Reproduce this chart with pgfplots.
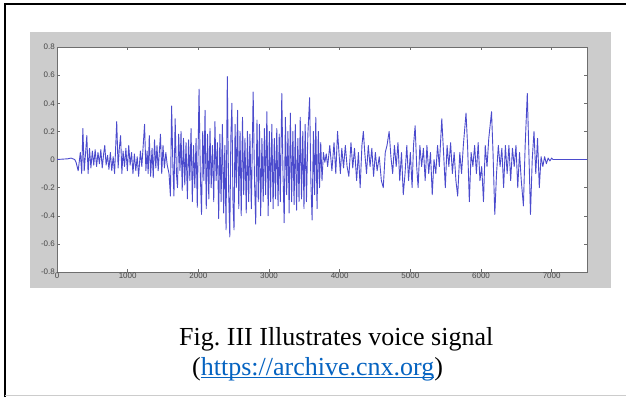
\documentclass[border=0pt]{standalone}
\usepackage{pgfplots}
\pgfplotsset{compat=1.18}
\usepackage{fontspec}
\setmainfont{Liberation Serif}
\newfontfamily\tickfont{Liberation Sans}
\definecolor{figgray}{RGB}{204,204,204}
\definecolor{sig}{RGB}{75,75,205}
\definecolor{axgray}{RGB}{110,110,110}
\definecolor{lbl}{RGB}{70,70,70}
\definecolor{link}{RGB}{5,99,193}
\newcommand\ul[1]{\setbox0\hbox{#1}\rlap{\rule[-2.6pt]{\wd0}{1.1pt}}\box0}
\frenchspacing
\begin{document}
\begin{tikzpicture}[x=1pt,y=1pt]
\useasboundingbox (0,0) rectangle (626,-397);
\fill[white] (0,0) rectangle (626,-397);
\draw[black,line width=1.3pt] (5,-397) -- (5,-4) -- (626,-4);
\draw[gray!40,line width=1pt] (5,-395.5) -- (626,-395.5);
\fill[figgray] (30,-32) rectangle (611,-288);
\begin{axis}[at={(57pt,-47pt)}, anchor=north west,
  width=530pt, height=225pt, scale only axis,
  xmin=0, xmax=7500, ymin=-0.8, ymax=0.8,
  axis background/.style={fill=white},
  axis line style={axgray,line width=0.6pt},
  xtick={0,1000,2000,3000,4000,5000,6000,7000},
  xticklabels={0,1000,2000,3000,4000,5000,6000,7000},
  ytick={-0.8,-0.6,-0.4,-0.2,0,0.2,0.4,0.6,0.8},
  yticklabels={-0.8,-0.6,-0.4,-0.2,0,0.2,0.4,0.6,0.8},
  tick align=inside, tick pos=both, major tick length=3pt,
  tick style={axgray,line width=0.5pt},
  ticklabel style={font=\tickfont\fontsize{8}{9}\selectfont, text=lbl},
  xticklabel style={inner sep=1pt},
  yticklabel style={inner sep=2pt},
]
\addplot[sig, line width=0.9pt, line join=round] coordinates {
(0,0) (150,0.005) (200,0.01) (250,0)
(270,-0.02) (300,-0.08) (330,0.05) (350,-0.1) (366,0.22) (385,-0.08) (405,0.05) (422,0.17) (440,-0.1) (460,0.08)
(480,-0.06) (500,0.06) (520,-0.04) (540,0.07) (560,-0.05) (580,0.05) (600,-0.03) (620,0.07) (640,-0.06) (660,0.04)
(676,0.1) (695,-0.04) (715,0.03) (735,-0.07) (755,0.05) (775,-0.08) (795,0.02) (815,-0.1) (845,0.27) (865,-0.06)
(882,0.08) (900,0.17) (918,-0.1) (935,0.06) (955,-0.05) (975,0.08) (995,-0.08) (1015,0.1) (1035,-0.04) (1055,0.05)
(1075,-0.1) (1095,0.04) (1115,-0.08) (1135,0.02) (1155,-0.12) (1180,0.06) (1200,-0.05) (1220,0.1) (1239,0.25) (1258,-0.08)
(1275,0.06) (1290,-0.1) (1306,0.17) (1325,-0.12) (1345,0.08) (1362,-0.13) (1380,0.14) (1398,-0.06) (1415,0.1) (1432,-0.08)
(1448,0.05) (1464,0.18) (1482,-0.1) (1500,0.1) (1520,-0.06) (1540,0.05) (1560,-0.04)
(1585,-0.1) (1605,-0.26) (1622,0.38) (1640,-0.05) (1655,-0.26) (1672,0.29) (1690,-0.1) (1705,-0.2) (1722,0.18) (1740,-0.08)
(1755,0.2) (1772,-0.22) (1790,0.15) (1808,-0.18) (1826,0.12) (1845,-0.28) (1862,0.14) (1880,-0.15) (1897,0.22) (1915,-0.3)
(1932,0.1) (1950,-0.2) (1968,0.15) (1985,-0.34) (2010,0.5) (2028,-0.1) (2045,-0.39) (2062,0.2) (2078,-0.15) (2095,0.35)
(2112,-0.35) (2130,0.18) (2148,-0.28) (2165,0.22) (2182,-0.2) (2200,0.1) (2218,-0.3) (2235,0.27) (2252,-0.15) (2270,0.12)
(2288,-0.42) (2305,0.18) (2322,-0.3) (2340,0.25) (2358,-0.38) (2375,0.1) (2392,-0.5) (2410,0.59) (2428,-0.2) (2445,-0.55)
(2460,0.15) (2475,0.4) (2490,-0.3) (2505,-0.5) (2520,0.25) (2537,-0.2) (2555,0.35) (2572,-0.35) (2590,0.2) (2607,-0.4)
(2625,0.3) (2642,-0.25) (2660,0.15) (2678,-0.38) (2695,0.2) (2712,-0.3) (2730,0.18) (2750,-0.35) (2776,0.48) (2795,-0.15)
(2812,-0.46) (2830,0.28) (2848,-0.3) (2865,0.25) (2882,-0.4) (2900,0.15) (2918,-0.3) (2935,0.22) (2952,-0.25) (2970,0.34)
(2988,-0.4) (3005,0.2) (3022,-0.3) (3040,0.25) (3058,-0.35) (3075,0.15) (3092,-0.28) (3110,0.22) (3128,-0.33) (3145,0.18)
(3160,-0.3) (3181,0.47) (3198,-0.1) (3215,-0.45) (3232,0.3) (3250,-0.25) (3268,0.2) (3285,-0.38) (3302,0.33) (3320,-0.3)
(3338,0.2) (3355,-0.32) (3372,0.25) (3390,-0.36) (3408,0.15) (3425,-0.3) (3442,0.3) (3460,-0.28) (3478,0.2) (3495,-0.35)
(3512,0.25) (3530,-0.3) (3550,0.18) (3575,0.44) (3592,-0.15) (3610,-0.43) (3628,0.2) (3645,-0.25) (3662,0.3) (3680,-0.35)
(3698,0.2) (3715,-0.2) (3732,0.12) (3750,-0.15)
(3770,0.05) (3790,-0.02) (3810,0.04) (3830,-0.05) (3860,0.1) (3890,-0.08) (3920,0.12) (3945,-0.1) (3970,0.2) (3990,0.05)
(4010,-0.1) (4030,0.08) (4055,-0.06) (4080,0.1) (4105,-0.05) (4130,-0.12) (4160,0.12) (4185,-0.06) (4210,0.08) (4240,-0.15)
(4265,0.05) (4290,-0.2) (4315,0.1) (4335,0.2) (4355,0.05) (4380,-0.1) (4405,0.1) (4430,-0.05) (4455,0.08) (4480,-0.12)
(4505,0.05) (4530,-0.08) (4560,0.02) (4590,-0.15) (4617,-0.2) (4645,0.05) (4670,0.1) (4700,0.2) (4725,0.02) (4750,-0.1)
(4775,0.1) (4800,-0.05) (4825,0.12) (4850,-0.15) (4875,0.05) (4900,-0.25) (4925,-0.1) (4950,0.1) (4975,-0.15) (5000,0.05)
(5025,-0.2) (5045,0.1) (5068,0.24) (5090,-0.05) (5110,-0.2) (5135,0.1) (5160,-0.05) (5185,0.08) (5210,-0.15) (5235,0.1)
(5260,-0.1) (5285,0.05) (5310,-0.25) (5335,0) (5360,-0.1) (5385,0.1) (5410,-0.05) (5445,0.29) (5470,0.05) (5495,-0.2)
(5520,0.1) (5545,-0.05) (5570,0.12) (5595,-0.1) (5620,0.05) (5645,-0.15) (5670,-0.26) (5700,0.05) (5725,-0.1) (5750,0.1)
(5788,0.33) (5810,0.1) (5835,-0.3) (5860,0.05) (5885,-0.05) (5910,0.1) (5935,-0.1) (5960,0.12) (5985,-0.15) (6010,-0.05)
(6035,-0.3) (6060,0.1) (6085,-0.05) (6110,0.15) (6149,0.34) (6170,0.05) (6195,-0.39) (6220,-0.1) (6245,0.1) (6270,-0.05)
(6295,0.08) (6320,-0.2) (6345,0.1) (6370,-0.1) (6395,0.1) (6420,-0.15) (6445,0.08) (6470,-0.05) (6495,0.1) (6520,-0.2)
(6545,0.05) (6570,-0.15) (6600,-0.33) (6625,0.1) (6655,0.47) (6675,0.1) (6700,-0.39) (6725,0) (6750,0.2) (6775,-0.1)
(6800,0.15) (6825,-0.2) (6850,0.02) (6875,-0.05) (6900,0.02) (6925,-0.03) (6950,0.01) (6975,-0.01) (7000,0.01) (7020,0)
(7500,0)
};
\end{axis}
\node[anchor=base west,inner sep=0,font=\fontsize{26}{30}\selectfont] at (179,-345) {Fig. III Illustrates voice signal};
\node[anchor=base west,inner sep=0,font=\fontsize{26}{30}\selectfont] at (192,-375) {(\textcolor{link}{\ul{https://archive.cnx.org}})};
\end{tikzpicture}
\end{document}
